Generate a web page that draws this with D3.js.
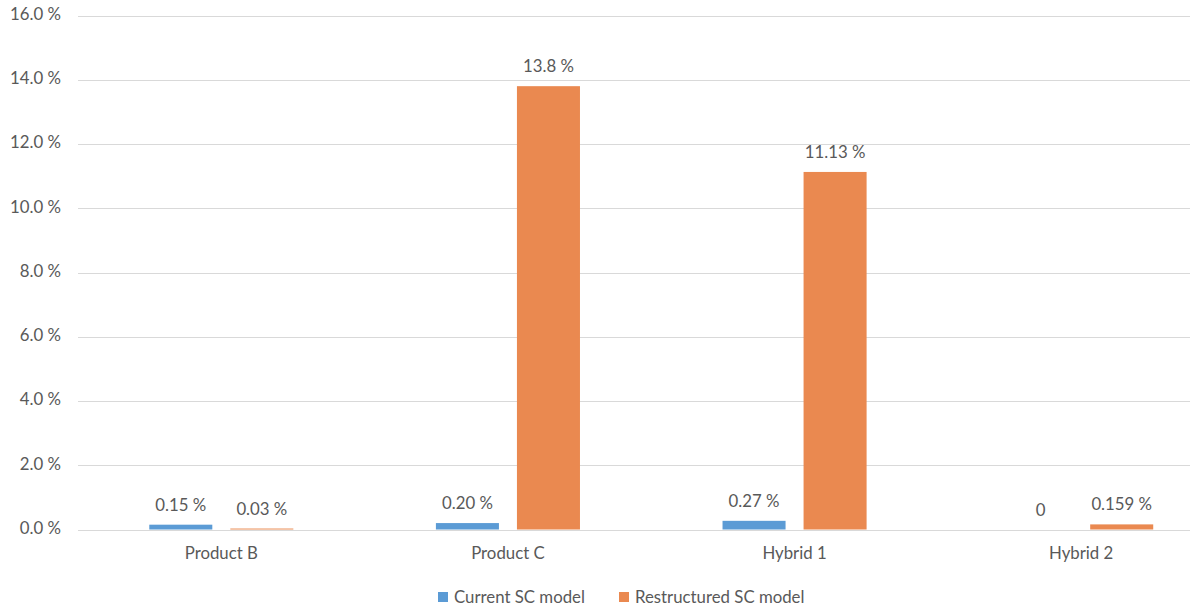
<!DOCTYPE html>
<html>
<head>
<meta charset="utf-8">
<script src="https://cdn.jsdelivr.net/npm/d3@7/dist/d3.min.js"></script>
<style>
  html, body { margin: 0; padding: 0; background: #fff; }
  svg { display: block; font-family: Lato, "Liberation Sans", sans-serif; }
</style>
</head>
<body>
<svg id="chart" width="1190" height="609"></svg>
<script>
// Share of units per product option, in percent
const categories = ["Product B", "Product C", "Hybrid 1", "Hybrid 2"];
const seriesNames = ["Current SC model", "Restructured SC model"];
const currentValues = [0.15, 0.20, 0.27, 0];
const restructuredValues = [0.03, 13.8, 11.13, 0.159];
const currentLabels = ["0.15 %", "0.20 %", "0.27 %", "0"];
const restructuredLabels = ["0.03 %", "13.8 %", "11.13 %", "0.159 %"];
const yTicks = [0, 2, 4, 6, 8, 10, 12, 14, 16];
const colors = ["#5B9BD5", "#EA8950"];

const svg = d3.select("#chart");
const textColor = "#595959";
const fontSize = 16.8;

const plot = { left: 78, right: 1224.5, top: 15.5, bottom: 529.5 };

const x0 = d3.scaleBand().domain(categories).range([plot.left, plot.right]).padding(0);
const x1 = d3.scaleBand().domain(seriesNames).range([0, x0.bandwidth()])
  .paddingInner(0.2222).paddingOuter(0.8796);
const y = d3.scaleLinear().domain([0, 16]).range([plot.bottom, plot.top]);

// Horizontal gridlines
svg.append("g").selectAll("line").data(yTicks).join("line")
  .attr("x1", plot.left).attr("x2", 1190)
  .attr("y1", d => Math.round(y(d)) + 0.5).attr("y2", d => Math.round(y(d)) + 0.5)
  .attr("stroke", "#D9D9D9").attr("stroke-width", 1);

// Y tick labels
svg.append("g").selectAll("text").data(yTicks).join("text")
  .attr("x", 61).attr("y", d => y(d))
  .attr("text-anchor", "end").attr("dominant-baseline", "middle")
  .attr("font-size", fontSize).attr("fill", textColor)
  .text(d => d.toFixed(1) + " %");

const rows = categories.map((c, i) => ({
  category: c,
  items: [
    { series: seriesNames[0], value: currentValues[i], label: currentLabels[i], color: colors[0] },
    { series: seriesNames[1], value: restructuredValues[i], label: restructuredLabels[i], color: colors[1] }
  ]
}));

const groups = svg.append("g").selectAll("g").data(rows).join("g")
  .attr("transform", d => `translate(${x0(d.category)},0)`);

groups.selectAll("rect").data(d => d.items).join("rect")
  .attr("x", d => x1(d.series))
  .attr("width", x1.bandwidth())
  .attr("y", d => y(d.value))
  .attr("height", d => y(0) - y(d.value))
  .attr("fill", d => d.color);

groups.selectAll("text").data(d => d.items).join("text")
  .attr("x", d => x1(d.series) + x1.bandwidth() / 2)
  .attr("y", d => y(d.value) - 14)
  .attr("text-anchor", "middle")
  .attr("font-size", fontSize).attr("fill", textColor)
  .text(d => d.label);

// Category axis labels
svg.append("g").selectAll("text").data(categories).join("text")
  .attr("x", d => x0(d) + x0.bandwidth() / 2)
  .attr("y", 559)
  .attr("text-anchor", "middle")
  .attr("font-size", fontSize).attr("fill", textColor)
  .text(d => d);

// Legend
const legendItems = [
  { name: seriesNames[0], color: colors[0], x: 438 },
  { name: seriesNames[1], color: colors[1], x: 619 }
];
const legend = svg.append("g").selectAll("g").data(legendItems).join("g")
  .attr("transform", d => `translate(${d.x},0)`);
legend.append("rect").attr("x", 0).attr("y", 592).attr("width", 10).attr("height", 10)
  .attr("fill", d => d.color);
legend.append("text").attr("x", 16).attr("y", 603)
  .attr("font-size", fontSize).attr("fill", textColor)
  .text(d => d.name);
</script>
</body>
</html>
